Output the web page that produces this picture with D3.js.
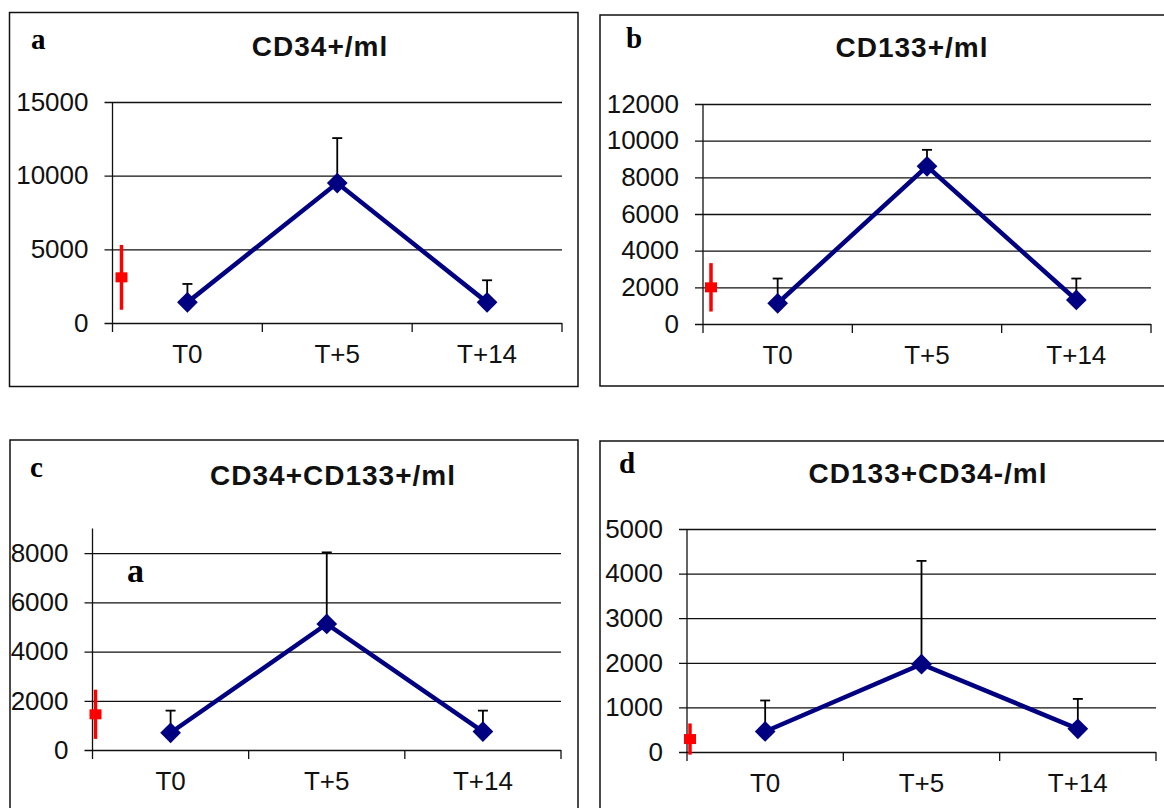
<!DOCTYPE html>
<html>
<head>
<meta charset="utf-8">
<script src="https://cdn.jsdelivr.net/npm/d3@7"></script>
<style>
  body { margin: 0; background: #fff; }
  svg { display: block; }
</style>
</head>
<body>
<div id="chart"></div>
<script>
// Categories shared by all four panels
const categories = ["T0", "T+5", "T+14"];

// a : CD34+/ml
const cd34Mean = [1400, 9500, 1400];
const cd34Err = [1250, 3050, 1500];
const cd34Ref = [3100, 2200];          // red marker: mean, sd
const cd34Ticks = [0, 5000, 10000, 15000];

// b : CD133+/ml
const cd133Mean = [1130, 8600, 1310];
const cd133Err = [1350, 900, 1170];
const cd133Ref = [2000, 1320];
const cd133Ticks = [0, 2000, 4000, 6000, 8000, 10000, 12000];

// c : CD34+CD133+/ml
const dpMean = [700, 5120, 750];
const dpErr = [900, 2910, 850];
const dpRef = [1450, 1000];
const dpTicks = [0, 2000, 4000, 6000, 8000];

// d : CD133+CD34-/ml
const spMean = [460, 1970, 520];
const spErr = [695, 2315, 670];
const spRef = [290, 350];
const spTicks = [0, 1000, 2000, 3000, 4000, 5000];

const W = 1164, H = 808;
const sans = "'Liberation Sans', Arial, sans-serif";
const serif = "'Liberation Serif', 'Times New Roman', serif";
const navy = "#000080";

// layout of each panel (pixels)
const panels = [
  {letter: "a", title: "CD34+/ml", mean: cd34Mean, err: cd34Err, ref: cd34Ref, ticks: cd34Ticks, yMax: 15000,
   frame: [9.5, 12.5, 578, 386.5], x0: 112.5, x1: 562, yTop: 102, yBot: 323,
   letterPos: [31, 49], titlePos: [320, 56], redDx: 9},
  {letter: "b", title: "CD133+/ml", mean: cd133Mean, err: cd133Err, ref: cd133Ref, ticks: cd133Ticks, yMax: 12000,
   frame: [600, 15, 1175, 386], x0: 703, x1: 1151, yTop: 104, yBot: 324,
   letterPos: [626, 48], titlePos: [912, 57], redDx: 8},
  {letter: "c", title: "CD34+CD133+/ml", mean: dpMean, err: dpErr, ref: dpRef, ticks: dpTicks, yMax: 9000,
   frame: [10, 440, 578, 830], x0: 92.5, x1: 561, yTop: 528.5, yBot: 750,
   letterPos: [30, 477], titlePos: [333, 485], redDx: 3, note: ["a", 127, 582]},
  {letter: "d", title: "CD133+CD34-/ml", mean: spMean, err: spErr, ref: spRef, ticks: spTicks, yMax: 5000,
   frame: [600, 441, 1175, 830], x0: 687, x1: 1156, yTop: 529, yBot: 752,
   letterPos: [619, 473], titlePos: [928, 483], redDx: 3}
];

const svg = d3.select("#chart").append("svg")
  .attr("width", W).attr("height", H);

panels.forEach(function(p) {
  const g = svg.append("g");

  // frame
  g.append("rect")
    .attr("x", p.frame[0]).attr("y", p.frame[1])
    .attr("width", p.frame[2] - p.frame[0]).attr("height", p.frame[3] - p.frame[1])
    .attr("fill", "none").attr("stroke", "#111").attr("stroke-width", 1.5);

  const x = d3.scaleBand().domain(categories).range([p.x0, p.x1]);
  const y = d3.scaleLinear().domain([0, p.yMax]).range([p.yBot, p.yTop]);

  // y grid + labels
  const yAxis = g.append("g")
    .attr("transform", `translate(${p.x0 - 8},0)`)
    .call(d3.axisLeft(y).tickValues(p.ticks).tickFormat(d3.format("d"))
      .tickSize(-(p.x1 - p.x0 + 8)).tickPadding(16));
  yAxis.select(".domain").remove();
  yAxis.selectAll(".tick line").attr("stroke", "#111").attr("stroke-width", 1.3);
  yAxis.selectAll(".tick text")
    .style("font-family", sans).style("font-size", "26px").attr("fill", "#111");

  // y axis line
  g.append("line")
    .attr("x1", p.x0).attr("x2", p.x0)
    .attr("y1", y(p.yMax)).attr("y2", p.yBot + 9)
    .attr("stroke", "#111").attr("stroke-width", 1.3);

  // x ticks at category boundaries
  const edges = categories.slice(1).map(c => x(c)).concat([p.x1]);
  g.selectAll(".xtick").data(edges).join("line")
    .attr("x1", d => d).attr("x2", d => d)
    .attr("y1", p.yBot).attr("y2", p.yBot + 9)
    .attr("stroke", "#111").attr("stroke-width", 1.3);

  // x labels
  g.selectAll(".xlab").data(categories).join("text")
    .attr("x", d => x(d) + x.bandwidth() / 2)
    .attr("y", p.yBot + 40)
    .attr("text-anchor", "middle")
    .style("font-family", sans).style("font-size", "26px").attr("fill", "#111")
    .text(d => d);

  const cx = (d, i) => x(categories[i]) + x.bandwidth() / 2;

  // error bars (upper only)
  g.selectAll(".err").data(p.mean).join("line")
    .attr("x1", cx).attr("x2", cx)
    .attr("y1", d => y(d))
    .attr("y2", (d, i) => y(d + p.err[i]))
    .attr("stroke", "#000").attr("stroke-width", 1.8);
  g.selectAll(".cap").data(p.mean).join("line")
    .attr("x1", (d, i) => cx(d, i) - 5).attr("x2", (d, i) => cx(d, i) + 5)
    .attr("y1", (d, i) => y(d + p.err[i]))
    .attr("y2", (d, i) => y(d + p.err[i]))
    .attr("stroke", "#000").attr("stroke-width", 1.8);

  // mean line
  g.append("path")
    .datum(p.mean)
    .attr("d", d3.line().x(cx).y(d => y(d)))
    .attr("fill", "none").attr("stroke", navy).attr("stroke-width", 4.5);

  // diamonds
  g.selectAll(".pt").data(p.mean).join("path")
    .attr("d", d3.symbol(d3.symbolSquare, 215))
    .attr("transform", (d, i) => `translate(${cx(d, i)},${y(d)}) rotate(45)`)
    .attr("fill", navy);

  // red reference marker
  const rx = p.x0 + p.redDx;
  g.append("line")
    .attr("x1", rx).attr("x2", rx)
    .attr("y1", y(p.ref[0] - p.ref[1])).attr("y2", y(p.ref[0] + p.ref[1]))
    .attr("stroke", "#ff0000").attr("stroke-width", 3.5);
  g.append("rect")
    .attr("x", rx - 6).attr("y", y(p.ref[0]) - 5)
    .attr("width", 12).attr("height", 10)
    .attr("fill", "#ff0000");

  // panel letter
  g.append("text")
    .attr("x", p.letterPos[0]).attr("y", p.letterPos[1])
    .style("font-family", serif).style("font-weight", "bold").style("font-size", "29px")
    .text(p.letter);

  // title
  g.append("text")
    .attr("x", p.titlePos[0]).attr("y", p.titlePos[1])
    .attr("text-anchor", "middle")
    .style("font-family", sans).style("font-weight", "bold").style("font-size", "28px")
    .style("letter-spacing", "1px").attr("fill", "#111")
    .text(p.title);

  if (p.note) {
    g.append("text")
      .attr("x", p.note[1]).attr("y", p.note[2])
      .style("font-family", serif).style("font-weight", "bold").style("font-size", "34px")
      .text(p.note[0]);
  }
});
</script>
</body>
</html>
